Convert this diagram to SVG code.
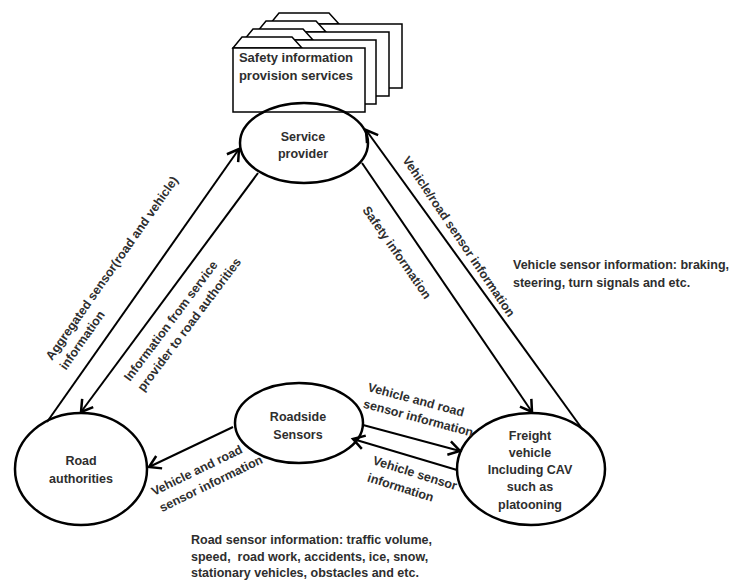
<svg xmlns="http://www.w3.org/2000/svg" xmlns:xlink="http://www.w3.org/1999/xlink" width="729" height="583" viewBox="0 0 729 583">
<style>
.t{font-family:"Liberation Sans",Arial,sans-serif;font-weight:bold;font-size:12.5px;fill:#2e2e2e}
.c{text-anchor:middle}
.node{fill:none;stroke:#000;stroke-width:2.5}
.edge{fill:none;stroke:#000;stroke-width:2;marker-end:url(#arr)}
.fold{fill:#fff;stroke:#000;stroke-width:1.5}
</style>
<defs>
<marker id="arr" markerUnits="userSpaceOnUse" markerWidth="20" markerHeight="20" refX="0" refY="0" viewBox="-12 -8 14 16" orient="auto">
<path d="M-9,-5.5 L0,0 L-9,5.5" fill="none" stroke="#000" stroke-width="2"/>
</marker>
<g id="folder">
<path class="fold" d="M233,48 L242,37 L292,37 L302,48 Z"/>
<rect class="fold" x="233" y="48" width="132" height="64"/>
</g>
</defs>
<rect width="729" height="583" fill="#fff"/>
<g id="safety-services">
<use xlink:href="#folder" transform="translate(37,-24)"/>
<use xlink:href="#folder" transform="translate(24,-16)"/>
<use xlink:href="#folder" transform="translate(11,-8)"/>
<use xlink:href="#folder"/>
<text class="t c" style="font-size:13px" x="296" y="62">Safety information</text>
<text class="t c" style="font-size:13px" x="296" y="80">provision services</text>
</g>
<g id="service-provider">
<ellipse class="node" cx="304" cy="143" rx="64" ry="40"/>
<text class="t c" x="303" y="141">Service</text>
<text class="t c" x="303" y="158">provider</text>
</g>
<g id="road-authorities">
<ellipse class="node" cx="81" cy="469" rx="66" ry="56"/>
<text class="t c" x="81" y="465">Road</text>
<text class="t c" x="81" y="483">authorities</text>
</g>
<g id="roadside-sensors">
<ellipse class="node" cx="299" cy="423" rx="64" ry="40"/>
<text class="t c" x="298" y="421">Roadside</text>
<text class="t c" x="298" y="439">Sensors</text>
</g>
<g id="freight-vehicle">
<ellipse class="node" cx="531" cy="469" rx="74" ry="56"/>
<text class="t c" x="530" y="440">Freight</text>
<text class="t c" x="530" y="457">vehicle</text>
<text class="t c" x="530" y="474">Including CAV</text>
<text class="t c" x="530" y="491">such as</text>
<text class="t c" x="530" y="509">platooning</text>
</g>
<g id="connectors">
<line class="edge" x1="47" y1="422" x2="239" y2="149"/>
<line class="edge" x1="258" y1="173" x2="81" y2="412"/>
<line class="edge" x1="362" y1="163" x2="532" y2="412"/>
<line class="edge" x1="583" y1="430" x2="366" y2="130"/>
<line class="edge" x1="233" y1="427" x2="149" y2="467"/>
<line class="edge" x1="363" y1="425" x2="460" y2="451"/>
<line class="edge" x1="457" y1="470" x2="353" y2="439"/>
</g>
<g id="labels">
<text class="t" transform="translate(52,361) rotate(-55)"><tspan x="0" y="0">Aggregated sensor(road and vehicle)</tspan><tspan x="0" y="17">information</tspan></text>
<text class="t" transform="translate(130,382) rotate(-53)"><tspan x="0" y="0">Information from service</tspan><tspan x="0" y="17">provider to road authorities</tspan></text>
<text class="t" transform="translate(362,210) rotate(55)">Safety information</text>
<text class="t" transform="translate(402,160) rotate(56)">Vehicle/road sensor information</text>
<text class="t" transform="translate(154,496) rotate(-26)"><tspan x="0" y="0">Vehicle and road</tspan><tspan x="0" y="18">sensor information</tspan></text>
<text class="t" transform="translate(367,391) rotate(15)"><tspan x="0" y="0">Vehicle and road</tspan><tspan x="0" y="17">sensor information</tspan></text>
<text class="t" transform="translate(372,464) rotate(17.5)"><tspan x="0" y="0">Vehicle sensor</tspan><tspan x="0" y="18">information</tspan></text>
<text class="t" x="513" y="269">Vehicle sensor information: braking,</text>
<text class="t" x="513" y="287">steering, turn signals and etc.</text>
<text class="t" x="191" y="544">Road sensor information: traffic volume,</text>
<text class="t" x="191" y="561">speed,&#160; road work, accidents, ice, snow,</text>
<text class="t" x="191" y="577">stationary vehicles, obstacles and etc.</text>
</g>
</svg>
